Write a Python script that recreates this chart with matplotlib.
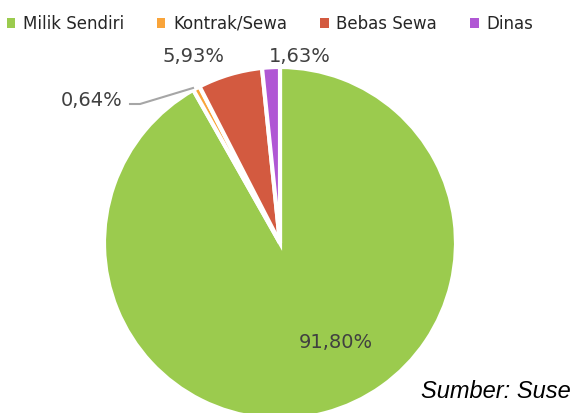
import matplotlib.pyplot as plt
from matplotlib.patches import Patch

# data
kategori = ['Milik Sendiri', 'Kontrak/Sewa', 'Bebas Sewa', 'Dinas']
persen = [91.80, 0.64, 5.93, 1.63]
label_persen = ['91,80%', '0,64%', '5,93%', '1,63%']
warna = ['#9BCB4E', '#F9A43A', '#D35A40', '#B057D4']

W, H = 572, 413
fig = plt.figure(figsize=(W / 100, H / 100), dpi=100)
ax = fig.add_axes([0, 0, 1, 1])

cx, cy, r = 280, H - 243, 176
wedges, _ = ax.pie(persen, colors=warna, startangle=90, counterclock=False,
                   center=(cx, cy), radius=r, frame=True,
                   wedgeprops=dict(edgecolor='white', linewidth=3))
ax.set_xlim(0, W)
ax.set_ylim(0, H)
ax.axis('off')

teks = dict(fontsize=14, color='#404040', family='DejaVu Sans')
ax.text(336, H - 343, label_persen[0], ha='center', va='center', **teks)
ax.text(92, H - 101, label_persen[1], ha='center', va='center', **teks)
ax.text(193, H - 57, label_persen[2], ha='center', va='center', **teks)
ax.text(300, H - 57, label_persen[3], ha='center', va='center', **teks)

# garis penunjuk 0,64%
ax.plot([130, 140, 193], [H - 104, H - 104, H - 88], color='#A6A6A6', lw=1.5)

# legenda
handles = [Patch(facecolor=c, edgecolor='none') for c in warna]
leg = fig.legend(handles, kategori, loc='center left', bbox_to_anchor=(0.012, 1 - 24 / H),
                 ncol=4, frameon=False, fontsize=12, handlelength=0.5, handleheight=0.5,
                 handletextpad=0.45, columnspacing=2.0, borderaxespad=0, borderpad=0)
for t in leg.get_texts():
    t.set_color('#262626')

ax.text(421, H - 392, 'Sumber: Suse', ha='left', va='center', fontsize=17,
        style='italic', family='Liberation Sans', color='black')

fig.savefig('out.png', dpi=100)
